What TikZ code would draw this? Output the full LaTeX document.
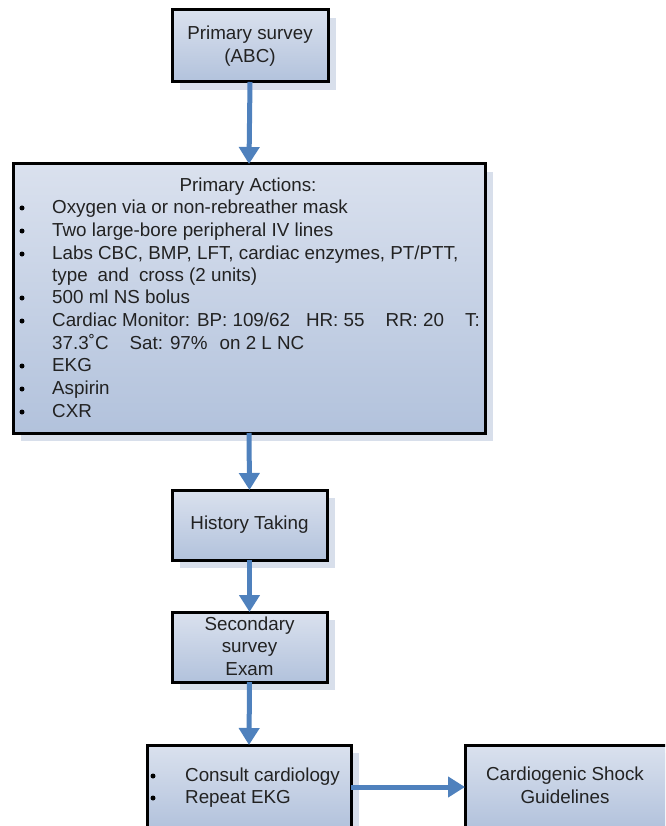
\documentclass[tikz,border=0pt]{standalone}
\usepackage{fontspec}
\setmainfont{Liberation Sans}
\usetikzlibrary{arrows.meta,shadows}
\newcommand\boxfont{\fontsize{18.8pt}{22.6pt}\selectfont}
\definecolor{flowblue}{HTML}{4F81BD}
\definecolor{boxtop}{HTML}{DAE1EE}
\definecolor{boxbottom}{HTML}{B2C2DC}
\definecolor{shadowc}{HTML}{D8DFEB}
\definecolor{inkc}{HTML}{222222}
\begin{document}
\begin{tikzpicture}[x=1pt,y=-1pt,
  flowbox/.style={rectangle, draw=black, line width=3pt, inner sep=0pt, outer sep=0pt,
    top color=boxtop, bottom color=boxbottom,
    drop shadow={shadow xshift=8pt, shadow yshift=-8pt, fill=shadowc, opacity=1}},
  label/.style={font=\boxfont, text=inkc, align=center, inner sep=0pt},
  item/.style={font=\boxfont, text=inkc, anchor=base west, inner sep=0pt},
  dot/.style={circle, fill=black, inner sep=0pt, minimum size=5pt},
  flow/.style={draw=flowblue, line width=5pt, -{Triangle[width=20pt,length=17pt]}}]
\useasboundingbox (0,0) rectangle (665,826);
\clip (0,0) rectangle (665,826);

% boxes
\node[flowbox, minimum width=156pt, minimum height=72pt] (survey) at (250,46) {};
\node[flowbox, minimum width=472pt, minimum height=269pt] (actions) at (249,298.5) {};
\node[flowbox, minimum width=155pt, minimum height=70pt] (history) at (249.5,525) {};
\node[flowbox, minimum width=155pt, minimum height=70pt] (secondary) at (249.5,647) {};
\node[flowbox, minimum width=204pt, minimum height=84pt] (consult) at (249,787) {};
\node[flowbox, minimum width=210pt, minimum height=84pt] (shock) at (570,787) {};

% box texts
\node[label] (surveytext) at (250,46) {Primary survey\\(ABC)};
\node[label] (historytext) at (249.5,525) {History Taking};
\node[label] (secondarytext) at (249.5,646) {Secondary\\survey\\Exam};
\node[label] (shocktext) at (565,785) {Cardiogenic Shock\\Guidelines};

% primary actions list
\node[font=\boxfont, text=inkc, anchor=base, inner sep=0pt] (acthead) at (248,191.5) {Primary Actions:};
\node[dot] (d1) at (22,208) {};
\node[item] (a1) at (52,213.5) {Oxygen via or non-rebreather mask};
\node[dot] (d2) at (22,231) {};
\node[item] (a2) at (52,236.5) {Two large-bore peripheral IV lines};
\node[dot] (d3) at (22,254) {};
\node[item] (a3) at (52,259.5) {Labs CBC, BMP, LFT, cardiac enzymes, PT/PTT,};
\node[item] (a3b) at (52,281.5) {type\hspace{10pt}and\hspace{10pt}cross (2 units)};
\node[dot] (d4) at (22,298) {};
\node[item] (a4) at (52,303.5) {500 ml NS bolus};
\node[dot] (d5) at (22,321) {};
\node[item] (a5) at (52,326.5) {Cardiac Monitor: BP: 109/62\hspace{16pt}HR: 55\hspace{21pt}RR: 20\hspace{21pt}T:};
\node[item] (a5b) at (52,349.5) {37.3˚C\hspace{21pt}Sat: 97\%\hspace{12pt}on 2 L NC};
\node[dot] (d6) at (22,366) {};
\node[item] (a6) at (52,371.5) {EKG};
\node[dot] (d7) at (22,389) {};
\node[item] (a7) at (52,394.5) {Aspirin};
\node[dot] (d8) at (22,412) {};
\node[item] (a8) at (52,417.5) {CXR};

% consult list
\node[dot] (c1dot) at (153,776) {};
\node[item] (c1) at (185,781.5) {Consult cardiology};
\node[dot] (c2dot) at (153,798) {};
\node[item] (c2) at (185,803.5) {Repeat EKG};

% connectors
\draw[flow] (survey.south) -- (actions.north);
\draw[flow] (actions.south) -- (history.north);
\draw[flow] (history.south) -- (secondary.north);
\draw[flow] (secondary.south) -- (consult.north);
\draw[flow] (consult.east) -- (shock.west);
\end{tikzpicture}
\end{document}
